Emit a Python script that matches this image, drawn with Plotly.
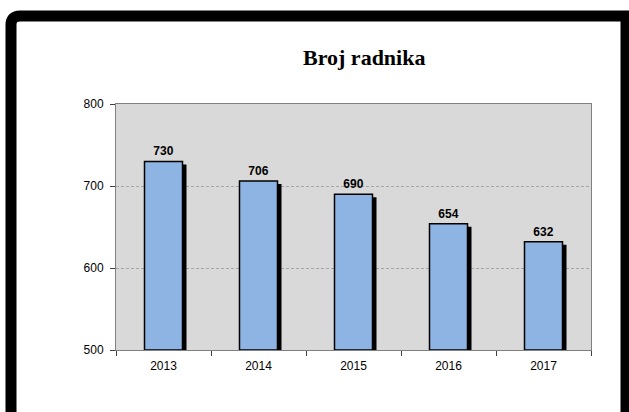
import plotly.graph_objects as go

years = ["2013", "2014", "2015", "2016", "2017"]
workers = [730, 706, 690, 654, 632]
title_text = "Broj radnika"

W, H = 629, 412
ML, MR, MT, MB = 116, 38, 104, 62
PW, PH = W - ML - MR, H - MT - MB
Y0, Y1 = 500, 800

def xp(px):
    return (px - ML) / PW

def yp(py):
    return (H - MB - py) / PH

bar_w = 0.4
shadow_dx = 4 / (PW / len(years))
shadow_dy = 3 * (Y1 - Y0) / PH

fig = go.Figure()
fig.add_trace(go.Bar(
    x=years, y=[v - shadow_dy - Y0 for v in workers], base=Y0,
    width=bar_w, offset=-bar_w / 2 + shadow_dx,
    marker=dict(color="black", line=dict(width=0)),
    hoverinfo="skip", showlegend=False,
))
fig.add_trace(go.Bar(
    x=years, y=[v - Y0 for v in workers], base=Y0,
    width=bar_w, offset=-bar_w / 2,
    marker=dict(color="#8EB4E3", line=dict(color="black", width=1.5)),
    text=[str(v) for v in workers], textposition="outside",
    textfont=dict(family="Liberation Sans, Arial", size=12, color="black", weight="bold"),
    cliponaxis=False, showlegend=False,
))

r = 9
x_l, y_t, x_r, y_b = 11, 16, 626, 418
path = (f"M {xp(x_l)},{yp(y_b)} L {xp(x_l)},{yp(y_t + r)} "
        f"Q {xp(x_l)},{yp(y_t)} {xp(x_l + r)},{yp(y_t)} "
        f"L {xp(x_r)},{yp(y_t)} L {xp(x_r)},{yp(y_b)} Z")

fig.update_layout(
    width=W, height=H,
    margin=dict(l=ML, r=MR, t=MT, b=MB, pad=0),
    paper_bgcolor="white", plot_bgcolor="#D9D9D9",
    barmode="overlay", bargap=0.6,
    font=dict(family="Liberation Sans, Arial", size=12, color="black"),
    shapes=[dict(type="path", path=path, xref="paper", yref="paper",
                 line=dict(color="black", width=11), layer="above")],
    annotations=[dict(text=title_text, xref="paper", yref="paper",
                      x=xp(364), y=yp(58), xanchor="center", yanchor="middle",
                      showarrow=False,
                      font=dict(family="Liberation Serif, Times New Roman", size=22,
                                color="black", weight="bold"))],
)
fig.update_xaxes(
    type="category", showgrid=False, showline=True, linecolor="#808080", linewidth=1,
    mirror=True, ticks="outside", tickson="boundaries", ticklen=5, tickcolor="#404040",
    tickfont=dict(size=12), ticklabelstandoff=5,
)
fig.update_yaxes(
    range=[Y0, Y1], dtick=100, showgrid=True, gridcolor="#A6A6A6", griddash="3px,2px",
    gridwidth=1, showline=True, linecolor="#808080", linewidth=1, mirror=True,
    ticks="outside", ticklen=5, tickcolor="#404040", zeroline=False,
    tickfont=dict(size=12), ticklabelstandoff=4,
)

fig.write_html("out.html", config={"displayModeBar": False},
               post_script="document.body.style.margin='0';document.body.style.overflow='hidden';")
